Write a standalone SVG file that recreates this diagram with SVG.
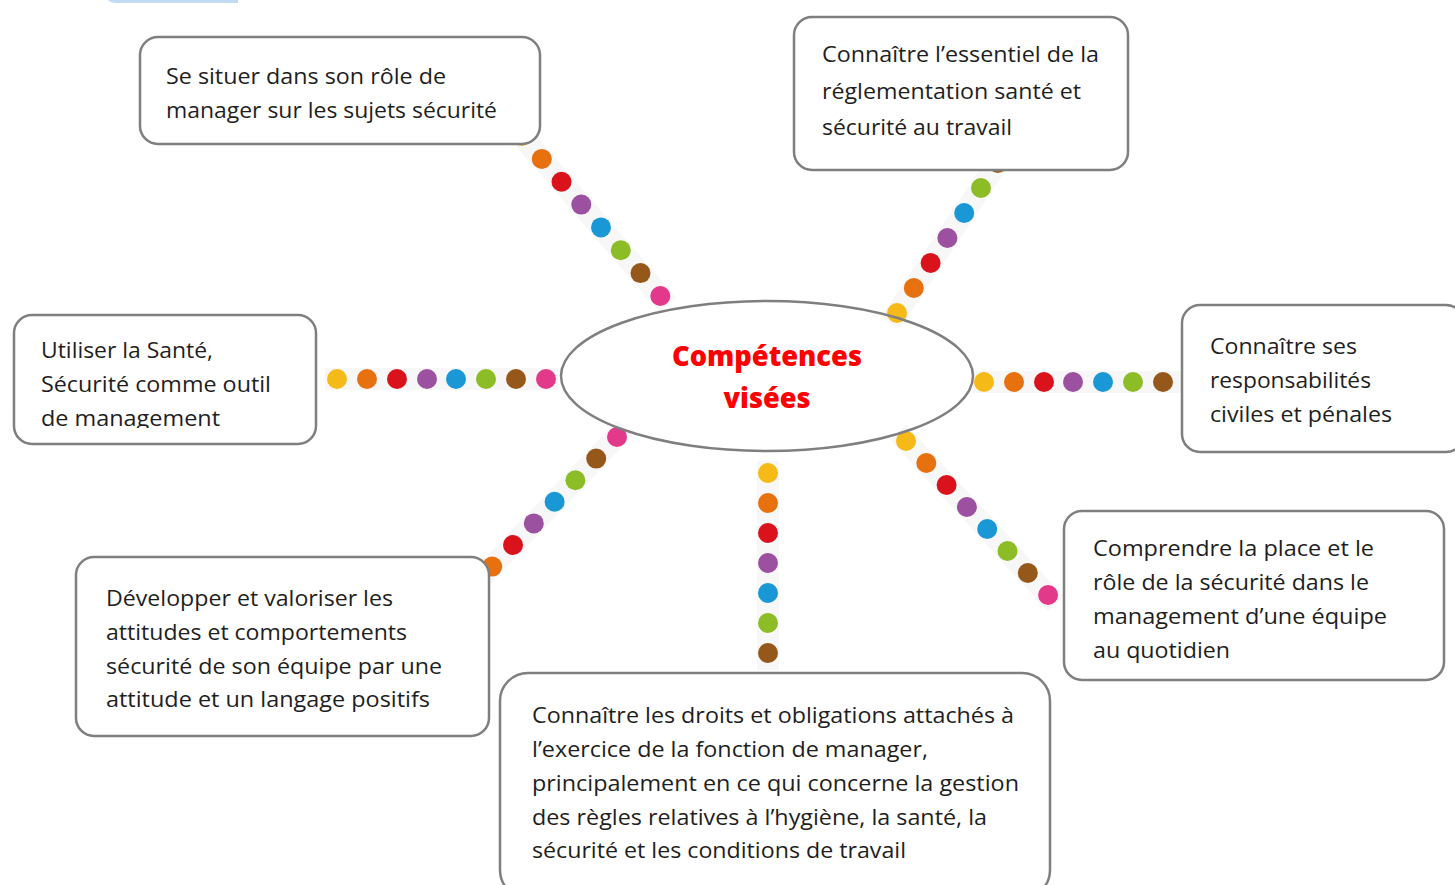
<svg xmlns="http://www.w3.org/2000/svg" width="1455" height="885" viewBox="0 0 1455 885">
<style>
.box{fill:#fff;stroke:#7f7f7f;stroke-width:2.5}
.t{font-family:"Open Sans","Noto Sans","DejaVu Sans",sans-serif;font-size:22px;fill:#1e1e1e}
.title{font-family:"Open Sans","Noto Sans","DejaVu Sans",sans-serif;font-size:29px;font-weight:800;fill:#ff0000;text-anchor:middle}
.band{stroke:#f7f7f7;stroke-width:22;fill:none}
.y{fill:#f5b918}.o{fill:#e8710f}.r{fill:#d9121c}.p{fill:#9b50a0}.b{fill:#1a98d5}.g{fill:#8cbd26}.br{fill:#96581a}.pk{fill:#e2398a}
</style>
<defs>
<clipPath id="clip3"><rect x="14" y="315" width="302" height="113"/></clipPath>
</defs>
<path d="M108,0 L238,0 L238,3 L118,3 Q110,3 108,0 Z" fill="#c3dbf2"/>
<g id="connectors">
<g id="strip-top-left">
<line class="band" x1="514" y1="127" x2="668" y2="305"/>
<circle class="y" cx="522" cy="136" r="10"/>
<circle class="o" cx="541.8" cy="158.9" r="10"/>
<circle class="r" cx="561.5" cy="181.7" r="10"/>
<circle class="p" cx="581.3" cy="204.6" r="10"/>
<circle class="b" cx="601" cy="227.4" r="10"/>
<circle class="g" cx="620.8" cy="250.3" r="10"/>
<circle class="br" cx="640.5" cy="273.1" r="10"/>
<circle class="pk" cx="660.3" cy="296" r="10"/>
</g>
<g id="strip-top-right">
<line class="band" x1="890" y1="323" x2="1021" y2="128"/>
<circle class="y" cx="897" cy="313" r="10"/>
<circle class="o" cx="913.8" cy="288" r="10"/>
<circle class="r" cx="930.6" cy="263" r="10"/>
<circle class="p" cx="947.4" cy="238" r="10"/>
<circle class="b" cx="964.2" cy="213" r="10"/>
<circle class="g" cx="981" cy="188" r="10"/>
<circle class="br" cx="997.8" cy="163" r="10"/>
<circle class="pk" cx="1014.6" cy="138" r="10"/>
</g>
<g id="strip-left">
<line class="band" x1="325" y1="379" x2="558" y2="379"/>
<circle class="y" cx="337" cy="379" r="10"/>
<circle class="o" cx="367" cy="379" r="10"/>
<circle class="r" cx="397" cy="379" r="10"/>
<circle class="p" cx="427" cy="379" r="10"/>
<circle class="b" cx="456" cy="379" r="10"/>
<circle class="g" cx="486" cy="379" r="10"/>
<circle class="br" cx="516" cy="379" r="10"/>
<circle class="pk" cx="546" cy="379" r="10"/>
</g>
<g id="strip-right">
<line class="band" x1="972" y1="382" x2="1190" y2="382"/>
<circle class="y" cx="984" cy="382" r="10"/>
<circle class="o" cx="1014" cy="382" r="10"/>
<circle class="r" cx="1044" cy="382" r="10"/>
<circle class="p" cx="1073" cy="382" r="10"/>
<circle class="b" cx="1103" cy="382" r="10"/>
<circle class="g" cx="1133" cy="382" r="10"/>
<circle class="br" cx="1163" cy="382" r="10"/>
<circle class="pk" cx="1193" cy="382" r="10"/>
</g>
<g id="strip-bottom-left">
<line class="band" x1="625" y1="428" x2="463" y2="597"/>
<circle class="pk" cx="617" cy="437" r="10"/>
<circle class="br" cx="596.2" cy="458.6" r="10"/>
<circle class="g" cx="575.4" cy="480.2" r="10"/>
<circle class="b" cx="554.6" cy="501.8" r="10"/>
<circle class="p" cx="533.8" cy="523.4" r="10"/>
<circle class="r" cx="513" cy="545" r="10"/>
<circle class="o" cx="492.2" cy="566.6" r="10"/>
<circle class="y" cx="471.4" cy="588.2" r="10"/>
</g>
<g id="strip-bottom">
<line class="band" x1="768" y1="461" x2="768" y2="670"/>
<circle class="y" cx="768" cy="473" r="10"/>
<circle class="o" cx="768" cy="503" r="10"/>
<circle class="r" cx="768" cy="533" r="10"/>
<circle class="p" cx="768" cy="563" r="10"/>
<circle class="b" cx="768" cy="593" r="10"/>
<circle class="g" cx="768" cy="623" r="10"/>
<circle class="br" cx="768" cy="653" r="10"/>
</g>
<g id="strip-bottom-right">
<line class="band" x1="898" y1="432" x2="1056" y2="604"/>
<circle class="y" cx="906" cy="441" r="10"/>
<circle class="o" cx="926.3" cy="463" r="10"/>
<circle class="r" cx="946.6" cy="485" r="10"/>
<circle class="p" cx="966.9" cy="507" r="10"/>
<circle class="b" cx="987.2" cy="529" r="10"/>
<circle class="g" cx="1007.5" cy="551" r="10"/>
<circle class="br" cx="1027.8" cy="573" r="10"/>
<circle class="pk" cx="1048.1" cy="595" r="10"/>
</g>
</g>
<g id="center">
<ellipse cx="767" cy="376" rx="206" ry="75" fill="none" stroke="#7f7f7f" stroke-width="2.5"/>
<text class="title" x="767" y="366" textLength="190" lengthAdjust="spacingAndGlyphs">Compétences</text>
<text class="title" x="767" y="408" textLength="87" lengthAdjust="spacingAndGlyphs">visées</text>
</g>
<g id="node-role">
<rect class="box" x="140" y="37" width="400" height="107" rx="18"/>
<text class="t" x="166" y="84" textLength="280" lengthAdjust="spacingAndGlyphs">Se situer dans son rôle de</text>
<text class="t" x="166" y="118" textLength="331" lengthAdjust="spacingAndGlyphs">manager sur les sujets sécurité</text>
</g>
<g id="node-reglementation">
<rect class="box" x="794" y="17" width="334" height="153" rx="18"/>
<text class="t" x="822" y="62" textLength="277" lengthAdjust="spacingAndGlyphs">Connaître l’essentiel de la</text>
<text class="t" x="822" y="99" textLength="259" lengthAdjust="spacingAndGlyphs">réglementation santé et</text>
<text class="t" x="822" y="135" textLength="190" lengthAdjust="spacingAndGlyphs">sécurité au travail</text>
</g>
<g id="node-outil">
<rect class="box" x="14" y="315" width="302" height="129" rx="18"/>
<g clip-path="url(#clip3)">
<text class="t" x="41" y="358" textLength="172" lengthAdjust="spacingAndGlyphs">Utiliser la Santé,</text>
<text class="t" x="41" y="392" textLength="230" lengthAdjust="spacingAndGlyphs">Sécurité comme outil</text>
<text class="t" x="41" y="426" textLength="179" lengthAdjust="spacingAndGlyphs">de management</text>
</g>
</g>
<g id="node-responsabilites">
<rect class="box" x="1182" y="305" width="282" height="147" rx="18"/>
<text class="t" x="1210" y="354" textLength="147" lengthAdjust="spacingAndGlyphs">Connaître ses</text>
<text class="t" x="1210" y="388" textLength="161" lengthAdjust="spacingAndGlyphs">responsabilités</text>
<text class="t" x="1210" y="422" textLength="182" lengthAdjust="spacingAndGlyphs">civiles et pénales</text>
</g>
<g id="node-attitudes">
<rect class="box" x="76" y="557" width="413" height="179" rx="18"/>
<text class="t" x="106" y="606" textLength="287" lengthAdjust="spacingAndGlyphs">Développer et valoriser les</text>
<text class="t" x="106" y="640" textLength="301" lengthAdjust="spacingAndGlyphs">attitudes et comportements</text>
<text class="t" x="106" y="674" textLength="336" lengthAdjust="spacingAndGlyphs">sécurité de son équipe par une</text>
<text class="t" x="106" y="707" textLength="324" lengthAdjust="spacingAndGlyphs">attitude et un langage positifs</text>
</g>
<g id="node-place">
<rect class="box" x="1064" y="511" width="380" height="169" rx="18"/>
<text class="t" x="1093" y="556" textLength="281" lengthAdjust="spacingAndGlyphs">Comprendre la place et le</text>
<text class="t" x="1093" y="590" textLength="276" lengthAdjust="spacingAndGlyphs">rôle de la sécurité dans le</text>
<text class="t" x="1093" y="624" textLength="294" lengthAdjust="spacingAndGlyphs">management d’une équipe</text>
<text class="t" x="1093" y="658" textLength="137" lengthAdjust="spacingAndGlyphs">au quotidien</text>
</g>
<g id="node-droits">
<rect class="box" x="500" y="673" width="550" height="225" rx="28"/>
<text class="t" x="532" y="723" textLength="482" lengthAdjust="spacingAndGlyphs">Connaître les droits et obligations attachés à</text>
<text class="t" x="532" y="757" textLength="396" lengthAdjust="spacingAndGlyphs">l’exercice de la fonction de manager,</text>
<text class="t" x="532" y="791" textLength="487" lengthAdjust="spacingAndGlyphs">principalement en ce qui concerne la gestion</text>
<text class="t" x="532" y="825" textLength="455" lengthAdjust="spacingAndGlyphs">des règles relatives à l’hygiène, la santé, la</text>
<text class="t" x="532" y="858" textLength="374" lengthAdjust="spacingAndGlyphs">sécurité et les conditions de travail</text>
</g>
</svg>
